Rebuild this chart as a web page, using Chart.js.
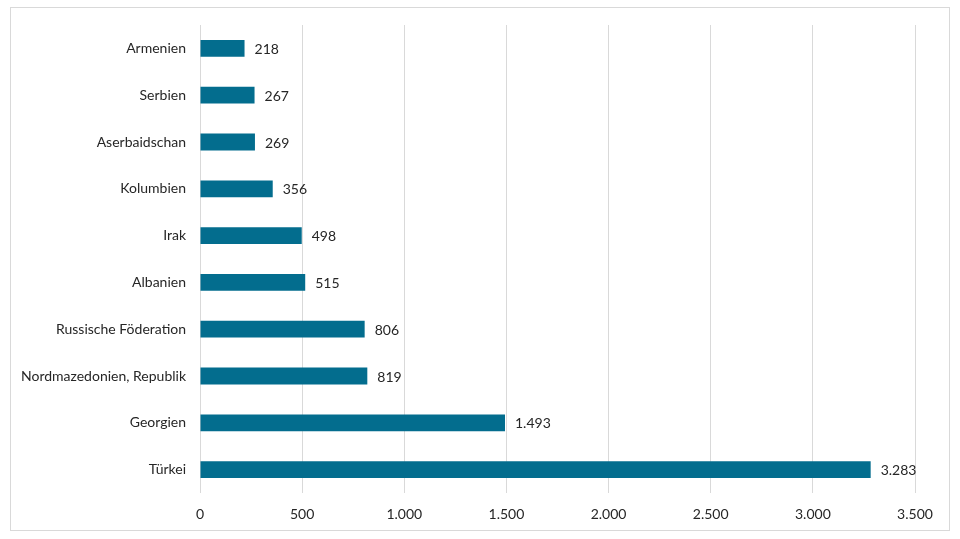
<!DOCTYPE html>
<html>
<head>
<meta charset="utf-8">
<script src="https://cdn.jsdelivr.net/npm/chart.js@4/dist/chart.umd.min.js"></script>
<style>
  html, body { margin: 0; padding: 0; background: #ffffff; }
  #frame { position: absolute; left: 10px; top: 7px; width: 938px; height: 522px; border: 1px solid #d9d9d9; }
  #wrap { position: absolute; left: 0; top: 0; width: 960px; height: 539px; }
</style>
</head>
<body>
<div id="frame"></div>
<div id="wrap"><canvas id="c" width="960" height="539"></canvas></div>
<script>
const categories = ['Armenien', 'Serbien', 'Aserbaidschan', 'Kolumbien', 'Irak', 'Albanien', 'Russische Föderation', 'Nordmazedonien, Republik', 'Georgien', 'Türkei'];
const values = [218, 267, 269, 356, 498, 515, 806, 819, 1493, 3283];
const xTicks = [0, 500, 1000, 1500, 2000, 2500, 3000, 3500];

function fmtDE(v) {
  return String(Math.round(v)).replace(/\B(?=(\d{3})+(?!\d))/g, '.');
}

const FONT = 'Lato, "Open Sans", sans-serif';
const TEXT = '#262626';

const valueLabels = {
  id: 'valueLabels',
  afterDatasetsDraw(chart) {
    const ctx = chart.ctx;
    const meta = chart.getDatasetMeta(0);
    ctx.save();
    ctx.font = '14px ' + FONT;
    ctx.fillStyle = TEXT;
    ctx.textAlign = 'left';
    ctx.textBaseline = 'middle';
    meta.data.forEach((bar, i) => {
      ctx.fillText(fmtDE(values[i]), bar.x + 10, bar.y + 1);
    });
    ctx.restore();
  }
};

new Chart(document.getElementById('c'), {
  type: 'bar',
  data: {
    labels: categories,
    datasets: [{
      data: values,
      backgroundColor: '#036d8e',
      borderColor: '#1a7f9c',
      borderWidth: 0,
      barPercentage: 0.36,
      categoryPercentage: 1.0
    }]
  },
  options: {
    indexAxis: 'y',
    responsive: false,
    animation: false,
    devicePixelRatio: 1,
    layout: { padding: { left: 0, right: 45, top: 25, bottom: 0 } },
    plugins: { legend: { display: false }, tooltip: { enabled: false } },
    scales: {
      x: {
        min: 0,
        max: 3500,
        afterBuildTicks(scale) { scale.ticks = xTicks.map(v => ({ value: v })); },
        afterFit(scale) { scale.height = 46; },
        grid: { color: '#d9d9d9', lineWidth: 1, drawTicks: false },
        border: { display: false },
        ticks: {
          padding: 13,
          color: TEXT,
          font: { family: FONT, size: 14 },
          callback: (v) => fmtDE(v)
        }
      },
      y: {
        afterFit(scale) { scale.width = 200; },
        grid: { display: false, drawTicks: false },
        border: { display: false },
        ticks: {
          padding: 14,
          color: TEXT,
          font: { family: FONT, size: 14 }
        }
      }
    }
  },
  plugins: [valueLabels]
});
</script>
</body>
</html>
